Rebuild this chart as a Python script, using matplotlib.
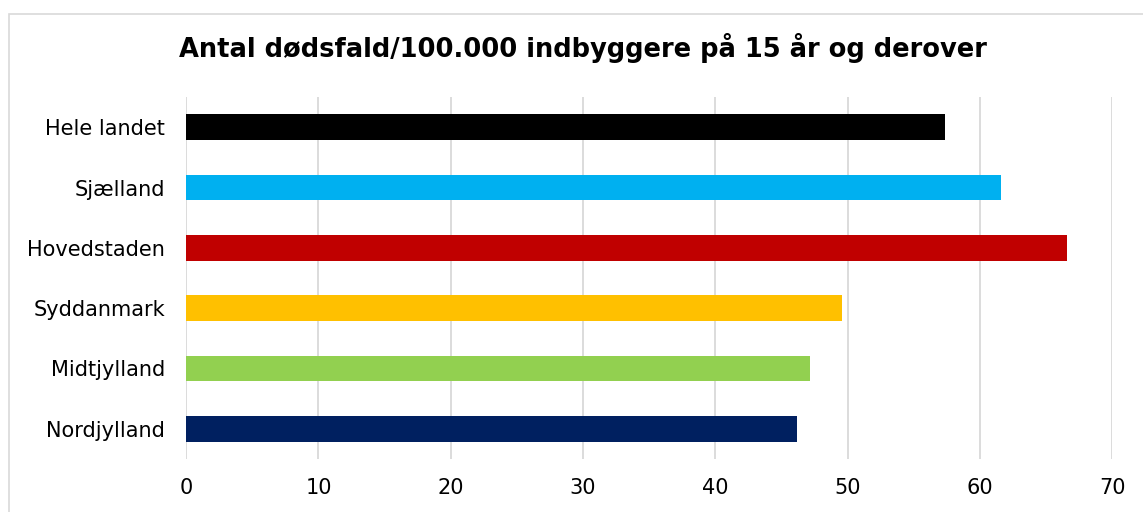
import matplotlib
matplotlib.use("Agg")
import matplotlib.pyplot as plt
from matplotlib.patches import Rectangle

plt.rcParams["font.family"] = ["DejaVu Sans"]

# Data, top to bottom as shown
regions = ["Hele landet", "Sjælland", "Hovedstaden", "Syddanmark", "Midtjylland", "Nordjylland"]
values = [57.35, 61.6, 66.6, 49.6, 47.15, 46.15]
colors = ["#000000", "#00b0f0", "#c00000", "#ffc000", "#92d050", "#002060"]
xticks = [0, 10, 20, 30, 40, 50, 60, 70]

W, H = 1143, 512
fig = plt.figure(figsize=(W / 100, H / 100), dpi=100)
fig.patch.set_facecolor("white")

# outer chart border (open to the right/bottom, as in the crop)
fig.patches.append(Rectangle((8.5 / W, -0.1), 1.2, (H - 13.5) / H + 0.1,
                             transform=fig.transFigure, fill=False,
                             ec="#d9d9d9", lw=1.2))

ax = fig.add_axes([186.2 / W, 1 - 459 / H, (1112.3 - 186.2) / W, (459 - 97) / H])
ypos = list(range(len(regions)))
ax.barh(ypos, values, height=0.42, color=colors, zorder=3)
ax.set_ylim(len(regions) - 0.5, -0.5)
ax.set_xlim(0, 70)
ax.set_xticks(xticks)
ax.set_yticks(ypos)
ax.set_yticklabels(regions)
ax.tick_params(axis="both", length=0, labelsize=15, colors="#000000")
ax.tick_params(axis="y", pad=15)
ax.tick_params(axis="x", pad=14)
ax.grid(axis="x", color="#d9d9d9", lw=1.3, zorder=0)
for s in ax.spines.values():
    s.set_visible(False)

fig.text(583 / W, 1 - 48 / H, "Antal dødsfald/100.000 indbyggere på 15 år og derover",
         ha="center", va="center", fontsize=18.5, fontweight="bold")

fig.savefig("out.png", dpi=100)
